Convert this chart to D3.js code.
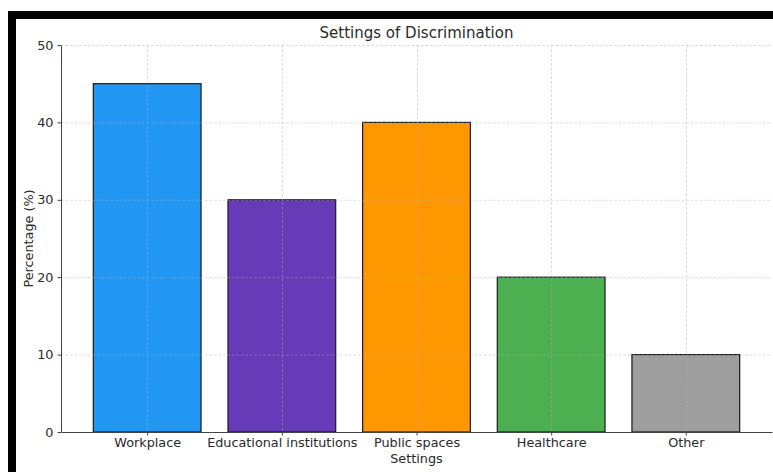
<!DOCTYPE html>
<html>
<head>
<meta charset="utf-8">
<script src="https://cdn.jsdelivr.net/npm/d3@7"></script>
<style>
  html, body { margin: 0; padding: 0; background: #fff; }
  svg { display: block; }
  text { font-family: "DejaVu Sans", sans-serif; }
</style>
</head>
<body>
<svg id="chart" width="773" height="472"></svg>
<script>
const categories = ["Workplace", "Educational institutions", "Public spaces", "Healthcare", "Other"];
const percentages = [45, 30, 40, 20, 10];
const barColors = ["#2196F3", "#673AB7", "#FF9800", "#4CAF50", "#9E9E9E"];
const yTicks = [0, 10, 20, 30, 40, 50];

const svg = d3.select("#chart");
const W = 773, H = 472;
const plot = { left: 61, right: 772, top: 45, bottom: 432 };

// frame strokes along the top and left edges
svg.append("rect").attr("x", 8).attr("y", 11).attr("width", W - 8).attr("height", 8).attr("fill", "#000");
svg.append("rect").attr("x", 8).attr("y", 11).attr("width", 8).attr("height", H - 11).attr("fill", "#000");

// category positions: index scale with matplotlib-style margins
const x = d3.scaleLinear().domain([-0.64, 4.64]).range([plot.left, plot.right]);
const y = d3.scaleLinear().domain([0, 50]).range([plot.bottom, plot.top]);
const barW = x(0.8) - x(0);

const g = svg.append("g");

// bars
g.selectAll("rect.bar").data(percentages).join("rect")
  .attr("class", "bar")
  .attr("x", (d, i) => x(i) - barW / 2)
  .attr("y", d => y(d))
  .attr("width", barW)
  .attr("height", d => y(0) - y(d))
  .attr("fill", (d, i) => barColors[i])
  .attr("stroke", "#1a1a1a")
  .attr("stroke-width", 1.2);

// grid drawn over the bars
const grid = svg.append("g").attr("stroke", "#b0b0b0").attr("stroke-opacity", 0.6)
  .attr("stroke-width", 0.8).attr("stroke-dasharray", "2.5,2");
grid.selectAll("line.h").data(yTicks.slice(1)).join("line")
  .attr("x1", plot.left).attr("x2", plot.right)
  .attr("y1", d => y(d) + 0.5).attr("y2", d => y(d) + 0.5);
grid.selectAll("line.v").data(categories).join("line")
  .attr("x1", (d, i) => Math.round(x(i)) + 0.5).attr("x2", (d, i) => Math.round(x(i)) + 0.5)
  .attr("y1", plot.top).attr("y2", plot.bottom);

// axes
const xAxis = d3.axisBottom(d3.scaleLinear().domain(x.domain()).range(x.range()))
  .tickValues(d3.range(categories.length))
  .tickFormat(i => categories[i])
  .tickSize(3.5).tickPadding(2).tickSizeOuter(0);
const yAxis = d3.axisLeft(y).tickValues(yTicks).tickSize(3.5).tickPadding(4).tickSizeOuter(0);

const gx = svg.append("g").attr("transform", `translate(0,${plot.bottom})`).call(xAxis);
const gy = svg.append("g").attr("transform", `translate(${plot.left},0)`).call(yAxis);
[gx, gy].forEach(a => {
  a.select(".domain").attr("stroke", "#444").attr("stroke-width", 1);
  a.selectAll(".tick line").attr("stroke", "#444");
  a.selectAll(".tick text").attr("fill", "#2a2a2a").style("font-size", "12.8px")
    .style("font-family", "'DejaVu Sans', sans-serif");
});

// titles
svg.append("text").attr("x", (plot.left + plot.right) / 2).attr("y", 38)
  .attr("text-anchor", "middle").attr("fill", "#2a2a2a").style("font-size", "15px")
  .text("Settings of Discrimination");
svg.append("text").attr("x", (plot.left + plot.right) / 2).attr("y", 463)
  .attr("text-anchor", "middle").attr("fill", "#2a2a2a").style("font-size", "12.8px")
  .text("Settings");
svg.append("text").attr("transform", `translate(33,${(plot.top + plot.bottom) / 2}) rotate(-90)`)
  .attr("text-anchor", "middle").attr("fill", "#2a2a2a").style("font-size", "12.8px")
  .text("Percentage (%)");
</script>
</body>
</html>
